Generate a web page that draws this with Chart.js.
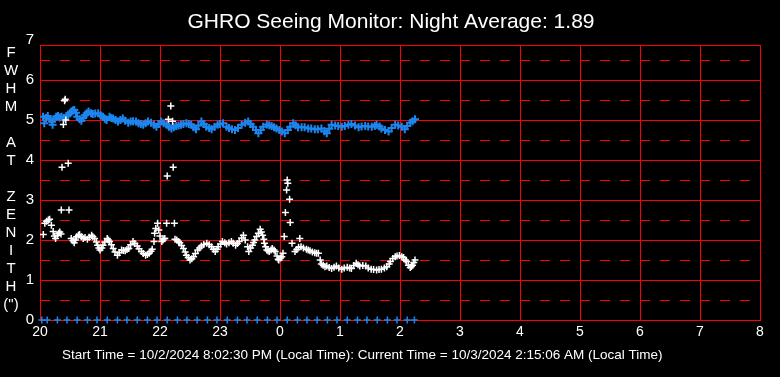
<!DOCTYPE html>
<html><head><meta charset="utf-8">
<script src="https://cdn.jsdelivr.net/npm/chart.js@4.4.1/dist/chart.umd.min.js"></script>
<style>html,body{margin:0;padding:0;background:#000;overflow:hidden}canvas{display:block}</style>
</head><body>
<canvas id="c" width="780" height="377"></canvas>
<script>
const titleText = 'GHRO Seeing Monitor: Night Average: 1.89';
const footerText = 'Start Time = 10/2/2024 8:02:30 PM (Local Time): Current Time = 10/3/2024 2:15:06 AM (Local Time)';
const yTitleLetters = ['F','W','H','M','','A','T','','Z','E','N','I','T','H','(")'];
const xTickLabels = ['20','21','22','23','0','1','2','3','4','5','6','7','8'];
const yTickValues = [0,1,2,3,4,5,6,7];
const yHalfValues = [0.5,1.5,2.5,3.5,4.5,5.5,6.5];

// White series (seeing, arcsec) - time in hours after midnight of start day
const whiteTimes = [20.055,20.08,20.11,20.14,20.16,20.19,20.22,20.24,20.26,20.29,20.31,20.33,20.35,20.355,20.367,20.39,20.41,20.42,20.43,20.47,20.483,
20.52,20.55,20.57,20.59,20.61,20.64,20.66,20.69,20.72,20.75,20.79,20.82,20.86,20.88,20.91,20.94,20.96,20.98,
21.00,21.03,21.05,21.08,21.12,21.14,21.16,21.19,21.22,21.25,21.29,21.32,21.36,21.39,21.42,21.45,21.48,21.51,21.55,21.58,21.62,21.65,21.69,21.72,21.76,21.79,21.82,21.85,21.87,21.90,21.91,21.93,21.96,21.98,
22.00,22.03,22.05,22.07,22.08,22.11,22.12,22.14,22.18,22.21,22.22,22.24,22.25,22.28,22.31,22.33,22.36,22.39,22.42,22.44,22.47,22.50,22.53,22.56,22.59,22.63,22.66,22.69,22.73,22.78,22.82,22.86,22.89,22.92,22.95,22.97,
23.01,23.04,23.08,23.11,23.15,23.19,23.22,23.26,23.29,23.32,23.36,23.39,23.42,23.46,23.48,23.51,23.54,23.56,23.58,23.61,23.64,23.67,23.69,23.71,23.73,23.74,23.76,23.78,23.80,23.82,23.85,23.87,23.90,23.92,23.95,23.97,23.98,
24.01,24.03,24.05,24.07,24.09,24.11,24.12,24.13,24.16,24.17,24.20,24.25,24.28,24.31,24.33,24.35,24.39,24.44,24.47,24.50,24.54,24.58,24.61,24.64,24.67,24.69,24.72,24.75,24.78,24.82,24.86,24.90,24.94,24.98,
25.03,25.07,25.12,25.16,25.19,25.23,25.27,25.30,25.33,25.38,25.43,25.47,25.52,25.56,25.61,25.65,25.69,25.74,25.78,25.82,25.84,25.88,25.92,25.95,25.99,
26.03,26.06,26.09,26.11,26.14,26.17,26.19,26.21,26.23,26.25];
const whiteValues = [2.14,2.42,2.47,2.50,2.52,2.37,2.21,2.10,2.04,2.12,2.17,2.20,2.15,2.75,3.82,4.89,5.48,5.52,5.00,3.92,2.75,
2.04,1.98,1.93,2.00,2.08,2.12,2.14,2.08,2.04,2.06,2.02,2.07,2.12,2.08,2.04,1.95,1.87,1.80,
1.75,1.80,1.87,1.95,2.04,2.00,1.96,1.88,1.79,1.70,1.62,1.68,1.75,1.74,1.73,1.76,1.79,1.88,1.96,1.91,1.85,1.78,1.71,1.66,1.62,1.64,1.67,1.72,1.77,1.96,2.17,2.29,2.42,2.25,
2.10,1.96,2.00,2.04,2.04,2.42,3.60,5.02,5.35,4.97,3.82,2.42,2.02,2.00,1.96,1.93,1.86,1.79,1.70,1.62,1.56,1.50,1.53,1.58,1.66,1.75,1.80,1.85,1.89,1.92,1.88,1.83,1.77,1.71,1.77,1.83,
1.90,1.96,1.93,1.90,1.93,1.96,1.92,1.87,1.91,1.96,2.05,2.12,2.00,1.83,1.71,1.80,1.87,1.94,2.00,2.09,2.17,2.27,2.20,2.12,2.02,1.92,1.83,1.75,1.73,1.71,1.75,1.79,1.75,1.71,1.60,1.52,1.50,
1.55,1.58,1.67,2.09,2.69,3.25,3.50,3.42,3.02,2.44,1.92,1.71,1.76,1.82,2.04,1.83,1.80,1.77,1.75,1.73,1.70,1.68,1.67,1.67,1.50,1.40,1.37,1.33,1.35,1.31,1.29,1.32,1.35,1.30,
1.27,1.30,1.32,1.30,1.29,1.36,1.42,1.38,1.35,1.36,1.35,1.30,1.27,1.26,1.25,1.26,1.27,1.30,1.33,1.40,1.46,1.54,1.58,1.60,1.61,
1.58,1.56,1.50,1.46,1.37,1.31,1.34,1.37,1.44,1.50];

// Blue series
const blueTimes = [20.05,20.07,20.10,20.13,20.17,20.20,20.21,20.24,20.27,20.30,20.33,20.36,20.40,20.44,20.47,20.50,20.52,20.55,20.57,20.60,20.62,20.66,20.69,20.72,20.75,20.78,20.81,20.85,20.88,20.92,20.97,
21.01,21.05,21.08,21.11,21.16,21.19,21.22,21.26,21.30,21.34,21.38,21.42,21.47,21.51,21.55,21.60,21.64,21.68,21.72,21.76,21.80,21.85,21.90,21.94,21.98,
22.02,22.06,22.11,22.15,22.19,22.23,22.27,22.31,22.35,22.39,22.44,22.48,22.52,22.56,22.60,22.64,22.69,22.73,22.77,22.82,22.86,22.91,22.96,
23.00,23.05,23.11,23.15,23.20,23.25,23.30,23.36,23.42,23.47,23.51,23.55,23.60,23.64,23.68,23.72,23.78,23.82,23.86,23.90,23.94,23.99,
24.03,24.08,24.13,24.17,24.22,24.26,24.30,24.36,24.41,24.47,24.52,24.58,24.63,24.69,24.74,24.78,24.82,24.86,24.92,24.97,
25.03,25.08,25.14,25.19,25.25,25.31,25.36,25.42,25.47,25.53,25.58,25.61,25.66,25.69,25.75,25.81,25.86,25.92,25.97,
26.03,26.08,26.12,26.17,26.21,26.25];
const blueValues = [5.08,4.92,5.05,5.10,5.02,4.96,4.88,5.03,5.08,5.10,5.06,5.08,5.05,5.10,5.12,5.17,5.21,5.24,5.25,5.18,5.08,5.02,4.98,5.05,5.12,5.17,5.21,5.17,5.15,5.16,5.17,
5.12,5.08,5.03,5.00,5.08,5.05,5.04,5.00,4.96,5.00,5.04,4.98,4.93,4.96,4.97,4.96,4.92,4.90,4.88,4.92,4.96,4.93,4.88,4.83,4.90,
4.96,4.92,4.88,4.83,4.79,4.82,4.85,4.86,4.88,4.90,4.92,4.90,4.88,4.82,4.77,4.86,4.96,4.90,4.83,4.80,4.77,4.83,4.88,
4.90,4.92,4.83,4.80,4.77,4.75,4.80,4.88,4.93,4.96,4.90,4.83,4.75,4.67,4.75,4.83,4.89,4.87,4.85,4.82,4.79,4.75,
4.71,4.67,4.75,4.83,4.92,4.87,4.82,4.82,4.82,4.79,4.79,4.77,4.77,4.79,4.72,4.67,4.78,4.88,4.86,4.85,
4.83,4.85,4.88,4.90,4.86,4.82,4.84,4.85,4.84,4.83,4.85,4.88,4.84,4.79,4.75,4.71,4.80,4.88,4.86,
4.83,4.77,4.85,4.93,4.97,5.02];

// Blue markers along zero line
const zeroTimes = [20.03,20.12,20.29,20.45,20.62,20.79,20.95,21.12,21.29,21.45,21.62,21.79,21.95,22.12,22.29,22.45,22.62,22.79,22.95,23.12,23.29,23.45,23.62,23.79,23.95,24.12,24.29,24.45,24.62,24.79,24.95,25.12,25.29,25.45,25.62,25.79,25.95,26.12,26.24];
const zeroValues = [0,0,0,0,0,0,0,0,0,0,0,0,0,0,0,0,0,0,0,0,0,0,0,0,0,0,0,0,0,0,0,0,0,0,0,0,0,0,0];

const toPts = (xs, ys) => xs.map((x, i) => ({x, y: ys[i]}));
const FONT = '"Liberation Sans", Arial, sans-serif';
const RED = 'rgb(255,0,0)';
const BLUE = 'rgb(28,134,238)';
// tiny bias keeps gridlines on the same pixel rows as the reference (avoids float rounding to the row above)
const Y_MIN = 1e-6, Y_MAX = 6.875 + 1e-6;

const textPlugin = {
  id: 'texts',
  beforeDraw(chart) {
    const c = chart.ctx;
    c.save(); c.fillStyle = '#000'; c.fillRect(0, 0, chart.width, chart.height); c.restore();
  },
  afterDraw(chart) {
    const c = chart.ctx;
    c.save();
    c.fillStyle = '#fff';
    c.textBaseline = 'middle';
    c.textAlign = 'center';
    c.font = '21px ' + FONT;
    c.fillText(titleText, 391, 22);
    c.font = '15px ' + FONT;
    yTitleLetters.forEach((t, i) => { if (t) c.fillText(t, 11, 53 + i * 18); });
    c.textAlign = 'left';
    c.font = '13.5px ' + FONT;
    c.fillText(footerText, 62, 355);
    c.restore();
  }
};

new Chart(document.getElementById('c'), {
  type: 'scatter',
  data: {
    datasets: [
      {label: 'white', data: toPts(whiteTimes, whiteValues), pointStyle: 'cross', pointRadius: 3.5, borderColor: '#fff', backgroundColor: '#fff', borderWidth: 1.5, showLine: false, xAxisID: 'x', yAxisID: 'y'},
      {label: 'blue', data: toPts(blueTimes, blueValues), pointStyle: 'cross', pointRadius: 4, borderColor: BLUE, backgroundColor: BLUE, borderWidth: 2, showLine: false, xAxisID: 'x', yAxisID: 'y'},
      {label: 'zero', data: toPts(zeroTimes, zeroValues), pointStyle: 'cross', pointRadius: 3.5, borderColor: BLUE, backgroundColor: BLUE, borderWidth: 1.5, showLine: false, clip: false, xAxisID: 'x', yAxisID: 'y'}
    ]
  },
  options: {
    responsive: false,
    animation: false,
    events: [],
    layout: {padding: {left: 0, right: 20, top: 45, bottom: 0}},
    plugins: {legend: {display: false}, title: {display: false}, tooltip: {enabled: false}},
    scales: {
      x: {
        type: 'linear', position: 'bottom', min: 20, max: 32,
        ticks: {stepSize: 1, color: '#fff', font: {family: FONT, size: 14}, padding: 4, maxRotation: 0, autoSkip: false,
          callback: (v, i) => xTickLabels[i]},
        grid: {color: RED, lineWidth: 1, drawTicks: false},
        border: {color: RED, width: 1},
        afterFit: s => { s.height = 57; }
      },
      xTop: {
        type: 'linear', position: 'top', min: 20, max: 32,
        ticks: {display: false},
        grid: {drawOnChartArea: false, drawTicks: false},
        border: {color: RED, width: 1},
        afterFit: s => { s.height = 0; }
      },
      y: {
        type: 'linear', position: 'left', min: Y_MIN, max: Y_MAX,
        afterBuildTicks: s => { s.ticks = yTickValues.map(v => ({value: v})); },
        ticks: {color: '#fff', font: {family: FONT, size: 15}, padding: 6, callback: v => String(v)},
        grid: {color: ctx => (ctx.tick && ctx.tick.value > 6.9) ? 'rgba(0,0,0,0)' : RED, lineWidth: 1, drawTicks: false},
        border: {color: RED, width: 1},
        afterFit: s => { s.width = 40; }
      },
      yDash: {
        type: 'linear', position: 'right', min: Y_MIN, max: Y_MAX,
        afterBuildTicks: s => { s.ticks = yHalfValues.map(v => ({value: v})); },
        ticks: {display: false},
        grid: {color: RED, lineWidth: 1, drawTicks: false},
        border: {display: false, dash: [10, 10], dashOffset: 0},
        afterFit: s => { s.width = 0; }
      }
    }
  },
  plugins: [textPlugin]
});
</script>
</body></html>
